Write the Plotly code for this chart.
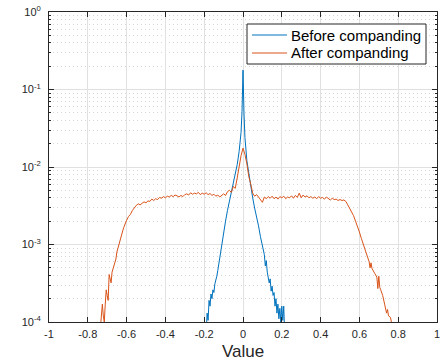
import plotly.graph_objects as go

# Histogram of sample values before companding (probability per bin)
before_x = [
    -0.195, -0.19, -0.185, -0.18, -0.175, -0.17, -0.165, -0.16, -0.155, -0.15,
    -0.145, -0.14, -0.135, -0.13, -0.125, -0.12, -0.115, -0.11, -0.105, -0.10,
    -0.09, -0.08, -0.07, -0.06, -0.05, -0.04, -0.03, -0.02, -0.01, -0.005,
    0.0,
    0.005, 0.01, 0.02, 0.03, 0.04, 0.05, 0.06, 0.07, 0.08, 0.09,
    0.10, 0.105, 0.11, 0.115, 0.12, 0.125, 0.13, 0.135, 0.14, 0.145,
    0.15, 0.155, 0.16, 0.165, 0.17, 0.175, 0.18, 0.185, 0.19, 0.195,
    0.20, 0.205, 0.21, 0.215,
]
before_p = [
    6e-5, 7e-5, 1.3e-4, 1.05e-4, 1.9e-4, 1.6e-4, 2.3e-4, 2.0e-4, 2.6e-4, 2.4e-4,
    3.1e-4, 3.4e-4, 3.9e-4, 4.6e-4, 5.6e-4, 6.6e-4, 8.4e-4, 9.8e-4, 1.2e-3, 1.38e-3,
    2.0e-3, 2.75e-3, 3.6e-3, 4.8e-3, 6.2e-3, 7.8e-3, 1.07e-2, 1.58e-2, 2.8e-2, 5.2e-2,
    0.178,
    5.0e-2, 2.4e-2, 1.2e-2, 7.9e-3, 5.5e-3, 4.0e-3, 2.95e-3, 2.35e-3, 1.74e-3, 1.26e-3,
    9.3e-4, 8.6e-4, 7.4e-4, 5.3e-4, 6.2e-4, 4.4e-4, 3.9e-4, 3.2e-4, 3.6e-4, 2.5e-4,
    2.9e-4, 2.2e-4, 2.4e-4, 1.6e-4, 2.0e-4, 1.3e-4, 1.7e-4, 1.1e-4, 1.5e-4, 1.0e-4,
    1.6e-4, 1.05e-4, 1.6e-4, 7e-5,
]

# Histogram after companding: left roll-off, plateau, central bump, right roll-off
after_left_x = [
    -0.74, -0.735, -0.73, -0.725, -0.72, -0.715, -0.71, -0.705, -0.70, -0.695,
    -0.69, -0.685, -0.68, -0.675, -0.67, -0.665, -0.66, -0.655, -0.65, -0.645,
    -0.64, -0.635, -0.63, -0.625, -0.62, -0.615, -0.61, -0.605, -0.60, -0.59,
    -0.58, -0.57, -0.56,
]
after_left_p = [
    6e-5, 9e-5, 1.3e-4, 1.7e-4, 1.2e-4, 1.0e-4, 1.7e-4, 2.6e-4, 2.2e-4, 1.9e-4,
    4.1e-4, 3.6e-4, 3.2e-4, 4.4e-4, 4.8e-4, 5.3e-4, 5.8e-4, 6.5e-4, 8.0e-4, 9.0e-4,
    9.8e-4, 1.1e-3, 1.2e-3, 1.35e-3, 1.5e-3, 1.65e-3, 1.8e-3, 1.9e-3, 2.05e-3, 2.3e-3,
    2.45e-3, 2.75e-3, 3.0e-3,
]
after_mid_x = [round(-0.55 + 0.01 * i, 2) for i in range(108)]  # bin centres -0.55 .. 0.52
after_mid_p = [
    3.2e-3, 3.35e-3, 3.25e-3, 3.4e-3, 3.55e-3, 3.45e-3, 3.65e-3, 3.6e-3, 3.85e-3, 3.7e-3,
    3.9e-3, 3.8e-3, 4.05e-3, 3.95e-3, 4.15e-3, 4.0e-3, 4.2e-3, 4.1e-3, 4.3e-3, 4.15e-3,
    4.35e-3, 4.25e-3, 4.1e-3, 4.3e-3, 4.15e-3, 4.4e-3, 4.5e-3, 4.35e-3, 4.65e-3, 4.45e-3,
    4.6e-3, 4.5e-3, 4.7e-3, 4.4e-3, 4.6e-3, 4.45e-3, 4.65e-3, 4.4e-3, 4.55e-3, 4.3e-3,
    4.45e-3, 4.2e-3, 4.35e-3, 4.1e-3, 4.3e-3, 4.5e-3, 4.3e-3, 4.8e-3, 5.0e-3, 4.7e-3,
    5.6e-3, 5.3e-3, 7.2e-3, 1.05e-2, 1.4e-2, 1.75e-2, 1.45e-2, 1.1e-2, 7.5e-3, 6.0e-3,
    4.6e-3, 4.2e-3, 4.4e-3, 4.1e-3, 3.75e-3, 3.5e-3, 4.1e-3, 3.9e-3, 4.15e-3, 3.95e-3,
    4.2e-3, 3.9e-3, 4.1e-3, 3.85e-3, 4.15e-3, 4.0e-3, 4.2e-3, 3.9e-3, 4.1e-3, 4.0e-3,
    4.25e-3, 3.95e-3, 4.3e-3, 4.05e-3, 4.6e-3, 4.0e-3, 4.35e-3, 4.1e-3, 4.25e-3, 4.0e-3,
    4.15e-3, 3.95e-3, 4.1e-3, 3.9e-3, 4.15e-3, 3.95e-3, 4.05e-3, 3.85e-3, 4.1e-3, 3.9e-3,
    3.75e-3, 3.95e-3, 3.8e-3, 3.85e-3, 3.7e-3, 3.8e-3, 3.7e-3, 3.75e-3,
]
after_right_x = [
    0.53, 0.54, 0.55, 0.56, 0.57, 0.58, 0.59, 0.60, 0.61, 0.62,
    0.63, 0.64, 0.65, 0.655, 0.66, 0.665, 0.67, 0.68, 0.69, 0.695,
    0.70, 0.705, 0.71, 0.72, 0.73, 0.74, 0.745, 0.75, 0.76, 0.765,
    0.77,
]
after_right_p = [
    3.6e-3, 3.25e-3, 2.95e-3, 2.6e-3, 2.35e-3, 2.0e-3, 1.75e-3, 1.45e-3, 1.2e-3, 1.0e-3,
    8.9e-4, 7.4e-4, 6.0e-4, 5.0e-4, 5.8e-4, 4.9e-4, 4.7e-4, 4.2e-4, 3.8e-4, 2.7e-4,
    3.9e-4, 2.8e-4, 2.6e-4, 2.2e-4, 1.7e-4, 1.3e-4, 1.45e-4, 1.2e-4, 1.15e-4, 1.0e-4,
    7e-5,
]
after_x = after_left_x + after_mid_x + after_right_x
after_p = after_left_p + after_mid_p + after_right_p

series_names = ["Before companding", "After companding"]

x_ticks = [-1, -0.8, -0.6, -0.4, -0.2, 0, 0.2, 0.4, 0.6, 0.8, 1]
x_tick_text = ["-1", "-0.8", "-0.6", "-0.4", "-0.2", "0", "0.2", "0.4", "0.6", "0.8", "1"]
y_ticks = [1e-4, 1e-3, 1e-2, 1e-1, 1]
y_tick_text = ["10<sup>-4</sup>", "10<sup>-3</sup>", "10<sup>-2</sup>",
               "10<sup>-1</sup>", "10<sup>0</sup>"]
y_minor = [m * 10.0 ** e for e in range(-4, 0) for m in range(2, 10)]

BLUE = "#0072BD"
ORANGE = "#D95319"
INK = "#262626"
FONT = "Liberation Sans, Arial, Helvetica, sans-serif"

W, H = 445, 361
ML, MR, MT, MB = 49, 8, 12, 39
PW, PH = W - ML - MR, H - MT - MB


def px(xp):
    return (xp - ML) / PW


def py(yp):
    return (H - MB - yp) / PH


fig = go.Figure()
fig.add_trace(go.Scatter(x=before_x, y=before_p, mode="lines", name=series_names[0],
                         line=dict(color=BLUE, width=1), showlegend=False))
fig.add_trace(go.Scatter(x=after_x, y=after_p, mode="lines", name=series_names[1],
                         line=dict(color=ORANGE, width=1), showlegend=False))

# Legend box drawn in paper space, top-right inside the axes
shapes = [dict(type="rect", xref="paper", yref="paper",
               x0=px(247), x1=px(426), y0=py(64), y1=py(24),
               line=dict(color=INK, width=1), fillcolor="white", layer="above")]
annotations = []
for name, color, row_y in zip(series_names, [BLUE, ORANGE], [35, 53]):
    shapes.append(dict(type="line", xref="paper", yref="paper",
                       x0=px(252), x1=px(287), y0=py(row_y), y1=py(row_y),
                       line=dict(color=color, width=1), layer="above"))
    annotations.append(dict(text=name, xref="paper", yref="paper",
                            x=px(289), y=py(row_y), xanchor="left", yanchor="middle",
                            showarrow=False, font=dict(family=FONT, size=15, color="black")))

fig.update_layout(
    width=W, height=H,
    margin=dict(l=ML, r=MR, t=MT, b=MB),
    paper_bgcolor="white", plot_bgcolor="white",
    font=dict(family=FONT, color=INK, size=11),
    showlegend=False,
    shapes=shapes, annotations=annotations,
)

fig.update_xaxes(
    range=[-1, 1], tickvals=x_ticks, ticktext=x_tick_text, automargin=False,
    showline=True, linecolor=INK, linewidth=1, mirror="allticks",
    ticks="inside", ticklen=5, tickcolor=INK, ticklabelstandoff=2,
    showgrid=True, gridcolor="#e1e1e1", gridwidth=1, zeroline=False,
    tickfont=dict(size=11, color=INK),
    title=dict(text="Value", font=dict(size=17, color=INK), standoff=7),
)
fig.update_yaxes(
    type="log", range=[-4, 0], tickvals=y_ticks, ticktext=y_tick_text, automargin=False,
    showline=True, linecolor=INK, linewidth=1, mirror="allticks",
    ticks="inside", ticklen=5, tickcolor=INK, ticklabelstandoff=5,
    showgrid=True, gridcolor="#e1e1e1", gridwidth=1, zeroline=False,
    tickfont=dict(size=11, color=INK),
    minor=dict(tickvals=y_minor, showgrid=True, gridcolor="#d6d6d6",
               griddash="1px,3px", ticks="inside", ticklen=2, tickcolor=INK),
)

fig.write_html("out.html")
